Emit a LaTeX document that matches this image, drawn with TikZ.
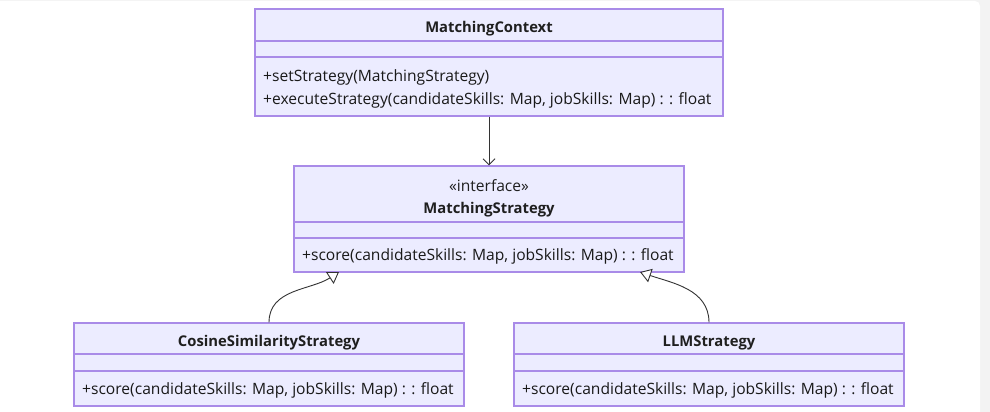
\documentclass[tikz,border=0pt]{standalone}
\usepackage{fontspec}
\setmainfont{Open Sans}
\usepackage{xcolor}
\usepackage{tikz}
\usetikzlibrary{arrows.meta}
\usetikzlibrary{calc}
\definecolor{pagegrey}{HTML}{F3F3F3}
\definecolor{classfill}{HTML}{ECECFF}
\definecolor{classedge}{HTML}{A98BE8}
\definecolor{linkgrey}{HTML}{333333}

\begin{document}
\begin{tikzpicture}[x=1pt,y=-1pt,
        classbox/.style={draw=classedge,fill=classfill,line width=1.1pt,inner sep=0pt},
        classline/.style={draw=classedge,line width=1.1pt},
        classname/.style={font=\fontsize{14.8}{18}\selectfont\bfseries,text=black!88},
        stereo/.style={font=\fontsize{15.6}{18}\selectfont,text=black!88},
        member/.style={anchor=west,inner sep=0pt,font=\fontsize{15.6}{18}\selectfont,text=black!90},
        assoc/.style={draw=linkgrey,line width=1pt,-{Straight Barb[length=6pt,width=12pt]}},
        inherit/.style={draw=linkgrey,line width=0.9pt,-{Triangle[open,fill=white,length=11pt,width=14pt]}}]
        % page
        \useasboundingbox[fill=pagegrey] (0,0) rectangle (990,412);
        \fill[white,rounded corners=5pt] (-10,1) rectangle (980,430);
        % MatchingContext
        \node[classbox,minimum width=468,minimum height=107] (ctx) at (489,62.5) {};
        \node[classname] (ctxname) at (489,28.5) {MatchingContext};
        \draw[classline] (ctx.west |- 0,41) -- (ctx.east |- 0,41);
        \draw[classline] (ctx.west |- 0,57) -- (ctx.east |- 0,57);
        \node[member] (ctxset) at (263,77) {+setStrategy(MatchingStrategy)};
        \node[member] (ctxrun) at (263,100.5) {+executeStrategy(candidateSkills: Map, jobSkills: Map) : : float};
        % MatchingStrategy
        \node[classbox,minimum width=390,minimum height=106] (strat) at (489,219) {};
        \node[stereo] (stratstereo) at (489,185.5) {«interface»};
        \node[classname] (stratname) at (489,209.5) {MatchingStrategy};
        \draw[classline] (strat.west |- 0,222) -- (strat.east |- 0,222);
        \draw[classline] (strat.west |- 0,238) -- (strat.east |- 0,238);
        \node[member] (stratscore) at (302,256.5) {+score(candidateSkills: Map, jobSkills: Map) : : float};
        % CosineSimilarityStrategy
        \node[classbox,minimum width=390,minimum height=83] (cos) at (269,364.5) {};
        \node[classname] (cosname) at (269,342.5) {CosineSimilarityStrategy};
        \draw[classline] (cos.west |- 0,354) -- (cos.east |- 0,354);
        \draw[classline] (cos.west |- 0,371) -- (cos.east |- 0,371);
        \node[member] (cosscore) at (82,390.5) {+score(candidateSkills: Map, jobSkills: Map) : : float};
        % LLMStrategy
        \node[classbox,minimum width=390,minimum height=83] (llm) at (709,364.5) {};
        \node[classname] (llmname) at (709,342.5) {LLMStrategy};
        \draw[classline] (llm.west |- 0,354) -- (llm.east |- 0,354);
        \draw[classline] (llm.west |- 0,371) -- (llm.east |- 0,371);
        \node[member] (llmscore) at (522,390.5) {+score(candidateSkills: Map, jobSkills: Map) : : float};
        % links
        \coordinate (stratleft) at (339,272);
        \coordinate (stratright) at (640,272);
        \draw[assoc] (ctx) -- (strat);
        \draw[inherit] (cos.north) to[out=90,in=-147] (stratleft);
        \draw[inherit] (llm.north) to[out=90,in=-19] (stratright);
    \end{tikzpicture}
\end{document}
